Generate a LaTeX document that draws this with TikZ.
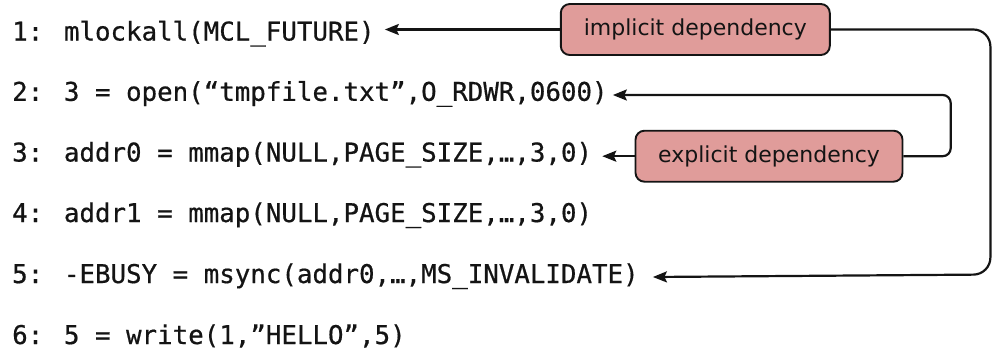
\documentclass[tikz,border=0pt]{standalone}
\usepackage{fontspec}
\setmainfont{DejaVu Sans}
\newfontfamily\codefont[FakeBold=0.6]{DejaVu Sans Mono}
\usetikzlibrary{arrows.meta}
\definecolor{boxfill}{RGB}{224,156,154}
\definecolor{ink}{RGB}{20,20,20}
\tikzset{
  codeline/.style={anchor=base west, inner sep=0pt, text=ink,
    font=\codefont\fontsize{25.8}{30}\selectfont},
  depbox/.style={draw=ink, line width=1.9pt, fill=boxfill, rounded corners=9pt,
    minimum height=51pt, inner sep=0pt, text=ink,
    font=\fontsize{22}{26}\selectfont},
  arr/.style={draw=ink, line width=2.2pt,
    -{Stealth[length=14pt,width=11pt,inset=2.5pt]}},
}
\begin{document}
\begin{tikzpicture}[x=1pt,y=-1pt]
\useasboundingbox (0,0) rectangle (992,354);

% the traced system calls
\node[codeline] (l1) at (12,40.5)  {1: mlockall(MCL\_FUTURE)};
\node[codeline] (l2) at (12,100.8) {2: 3 = open(“tmpfile.txt”,O\_RDWR,0600)};
\node[codeline] (l3) at (12,161.5) {3: addr0 = mmap(NULL,PAGE\_SIZE,…,3,0)};
\node[codeline] (l4) at (12,222)   {4: addr1 = mmap(NULL,PAGE\_SIZE,…,3,0)};
\node[codeline] (l5) at (12,283)   {5: -EBUSY = msync(addr0,…,MS\_INVALIDATE)};
\node[codeline] (l6) at (12,344)   {6: 5 = write(1,”HELLO”,5)};

% dependency labels
\node[depbox, minimum width=269pt] (b1) at (695.3,29.5) {implicit dependency};
\node[depbox, minimum width=267pt] (b2) at (769,156.2)  {explicit dependency};

% implicit dependency: 1 <- label -> 5
\draw[arr] (b1.west) -- ([xshift=10pt]l1.east |- b1.west);
\draw[arr, rounded corners=17pt] (b1.east) -- (990.4,29.5) -- (990.4,274.5)
  -- ([xshift=14pt]l5.east |- 0,277);

% explicit dependency: 3 <- label -> 2
\draw[arr] (b2.west) -- ([xshift=10pt]l3.east |- b2.west);
\draw[arr, rounded corners=8pt] (b2.east) -- (b2.east -| 950.7,0) -- (950.7,95)
  -- ([xshift=5pt]l2.east |- 0,95);
\end{tikzpicture}
\end{document}
